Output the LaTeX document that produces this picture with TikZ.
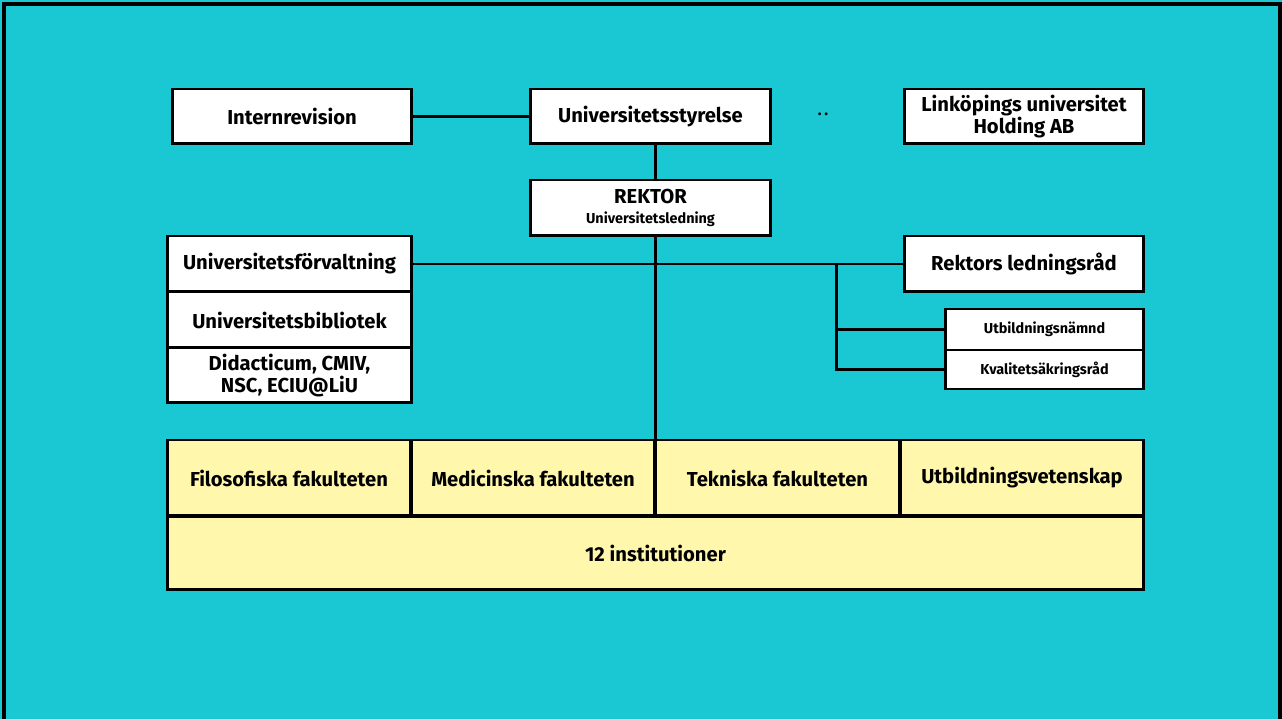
\documentclass[tikz,border=0pt]{standalone}
\usepackage{fontspec}
\setmainfont{Fira Sans}
\definecolor{liucyan}{HTML}{19C8D2}
\definecolor{liuyellow}{HTML}{FFF7AC}
\begin{document}
\begin{tikzpicture}[x=0.02cm, y=-0.02cm,
  main/.style = {draw, line width=1.7pt, fill=white, inner sep=0pt, outer sep=0pt,
    align=center, font=\bfseries\fontsize{11.5}{12.5}\selectfont},
  small/.style = {main, font=\bfseries\fontsize{8.2}{9.5}\selectfont},
  fac/.style = {main, fill=liuyellow, minimum width=4.88cm, minimum height=1.52cm},
  link/.style = {line width=1.7pt}]

\fill[liucyan] (0, 0) rectangle (1282, 719);
\useasboundingbox (0, 0) rectangle (1282, 719);
\draw[line width=2pt] (4, 730) -- (4, 4) -- (1280, 4) -- (1280, 730);

% top row
\node[main, minimum width=4.8cm, minimum height=1.1cm] (intrev) at (292, 116.5) {Internrevision};
\node[main, minimum width=4.82cm, minimum height=1.1cm] (styrelse) at (650.5, 116.5) {Universitetsstyrelse};
\node[main, minimum width=4.8cm, minimum height=1.1cm] (holding) at (1024, 116.5) {Linköpings universitet\\Holding AB};
\node[font=\bfseries\fontsize{9}{10}\selectfont] (dots) at (823, 114) {.\,.};

\node[main, minimum width=4.82cm, minimum height=1.12cm] (rektor) at (650.5, 208)
  {REKTOR\\[-1pt]{\fontsize{8.2}{9.5}\selectfont Universitetsledning}};

% left column
\node[main, minimum width=4.9cm, minimum height=1.12cm] (forv) at (289.5, 264) {Universitetsförvaltning};
\node[main, minimum width=4.9cm, minimum height=1.12cm] (bibl) at (289.5, 320) {Universitetsbibliotek};
\node[main, minimum width=4.9cm, minimum height=1.1cm] (didac) at (289.5, 375.5) {Didacticum, CMIV,\\NSC, ECIU@LiU};

% right column
\node[main, minimum width=4.8cm, minimum height=1.12cm] (ledn) at (1024, 264) {Rektors ledningsråd};
\node[small, minimum width=3.98cm, minimum height=0.82cm] (utbn) at (1044.5, 329.5) {Utbildningsnämnd};
\node[small, minimum width=3.98cm, minimum height=0.78cm] (kval) at (1044.5, 369.5) {Kvalitetsäkringsråd};

% faculties
\node[fac] (filo) at (289, 478) {Filosofiska fakulteten};
\node[fac] (med) at (533, 478) {Medicinska fakulteten};
\node[fac] (tek) at (777.5, 478) {Tekniska fakulteten};
\node[fac] (utbv) at (1022, 478) {Utbildningsvetenskap};
\node[main, fill=liuyellow, minimum width=19.54cm, minimum height=1.48cm] (inst) at (655.5, 553) {12 institutioner};

% connectors
\draw[link] (intrev.east) -- (styrelse.west);
\draw[link] (tek.north west |- styrelse.south) -- (tek.north west |- rektor.north);
\draw[link] (tek.north west |- rektor.south) -- (tek.north west);
\draw[link] (forv.east) -- (ledn.west);
\coordinate (branch) at (836, 264);
\draw[link] (branch) |- (utbn.west);
\draw[link] (branch) |- (kval.west);

\end{tikzpicture}
\end{document}
